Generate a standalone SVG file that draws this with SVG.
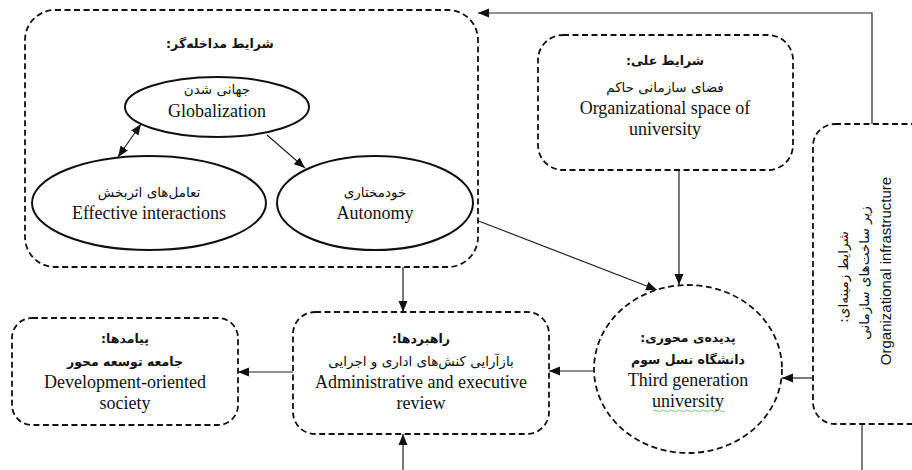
<svg xmlns="http://www.w3.org/2000/svg" width="912" height="470" viewBox="0 0 912 470">
<style>
.box{fill:#fff;stroke:#111;stroke-width:1.8;stroke-dasharray:6 3.5}
.ell{fill:#fff;stroke:#111;stroke-width:2}
.con{fill:none;stroke:#222;stroke-width:1.2}
.en{font-family:"Liberation Serif","Times New Roman",serif;font-size:18px;fill:#111;text-anchor:middle}
.fa{font-family:"DejaVu Sans","Noto Sans",sans-serif;font-size:13.5px;fill:#111;text-anchor:middle;direction:rtl;unicode-bidi:embed}
.b{font-weight:bold;font-size:12.5px}
.ens{font-family:"Liberation Sans",Arial,sans-serif;font-size:15px;fill:#111;text-anchor:middle}
</style>
<defs>
<marker id="ah" markerUnits="userSpaceOnUse" markerWidth="12" markerHeight="10" refX="11" refY="5" orient="auto-start-reverse">
<path d="M0,0.5 L11,5 L0,9.5 z" fill="#111"/>
</marker>
</defs>
<rect width="912" height="470" fill="#fff"/>

<g id="connectors">
<line class="con" x1="403" y1="267" x2="403" y2="312" marker-end="url(#ah)"/>
<line class="con" x1="403" y1="470" x2="403" y2="434" marker-end="url(#ah)"/>
<line class="con" x1="679" y1="170" x2="679" y2="285" marker-end="url(#ah)"/>
<line class="con" x1="476" y1="220" x2="657" y2="290" marker-end="url(#ah)"/>
<line class="con" x1="813" y1="378" x2="782" y2="378" marker-end="url(#ah)"/>
<line class="con" x1="593" y1="371" x2="549" y2="371" marker-end="url(#ah)"/>
<line class="con" x1="293" y1="372" x2="238" y2="372" marker-end="url(#ah)"/>
<path class="con" d="M872,124 V13 H478" marker-end="url(#ah)"/>
<line class="con" x1="862" y1="424" x2="862" y2="470"/>
</g>

<g id="intervening">
<rect class="box" x="25" y="10" width="453" height="257" rx="30"/>
<text class="fa b" x="220" y="48">شرایط مداخله‌گر:</text>
</g>

<g id="connectors-inner">
<line class="con" x1="267" y1="135" x2="305" y2="168" marker-end="url(#ah)"/>
<line class="con" x1="118" y1="157" x2="141" y2="124" marker-start="url(#ah)" marker-end="url(#ah)"/>
</g>

<g id="globalization">
<ellipse class="ell" cx="217" cy="107" rx="92" ry="30"/>
<text class="fa" x="217" y="94">جهانی شدن</text>
<text class="en" x="217" y="117">Globalization</text>
</g>

<g id="interactions">
<ellipse class="ell" cx="149" cy="203" rx="117" ry="47"/>
<text class="fa" x="149" y="197">تعامل‌های اثربخش</text>
<text class="en" x="149" y="219">Effective interactions</text>
</g>

<g id="autonomy">
<ellipse class="ell" cx="375" cy="203" rx="98" ry="47"/>
<text class="fa" x="375" y="197">خودمختاری</text>
<text class="en" x="375" y="219">Autonomy</text>
</g>

<g id="causal">
<rect class="box" x="538" y="35" width="255" height="135" rx="25"/>
<text class="fa b" x="665" y="65">شرایط علی:</text>
<text class="fa" x="665" y="92">فضای سازمانی حاکم</text>
<text class="en" x="665" y="114">Organizational space of</text>
<text class="en" x="665" y="135">university</text>
</g>

<g id="contextual">
<rect class="box" x="813" y="124" width="120" height="300" rx="22"/>
<text class="fa" transform="translate(848,277) rotate(-90)" x="0" y="0">شرایط زمینه‌ای:</text>
<text class="fa" transform="translate(869,273) rotate(-90)" x="0" y="0">زیر ساخت‌های سازمانی</text>
<text class="ens" transform="translate(891,271) rotate(-90)" x="0" y="0">Organizational infrastructure</text>
</g>

<g id="phenomenon">
<ellipse class="box" cx="688" cy="369" rx="94" ry="84"/>
<text class="fa b" x="688" y="342">پدیده‌ی محوری:</text>
<text class="fa b" x="688" y="364">دانشگاه نسل سوم</text>
<text class="en" x="688" y="386">Third generation</text>
<text class="en" x="688" y="407">university</text>
<path d="M653,411 q2,-2 4,0 t4,0 t4,0 t4,0 t4,0 t4,0 t4,0 t4,0 t4,0 t4,0 t4,0 t4,0 t4,0 t4,0 t4,0 t4,0 t4,0 t4,0" fill="none" stroke="#5cb85c" stroke-width="0.8"/>
</g>

<g id="strategies">
<rect class="box" x="293" y="312" width="256" height="122" rx="22"/>
<text class="fa b" x="421" y="343">راهبردها:</text>
<text class="fa" x="421" y="366">بازآرایی کنش‌های اداری و اجرایی</text>
<text class="en" x="421" y="388">Administrative and executive</text>
<text class="en" x="421" y="409">review</text>
</g>

<g id="outcomes">
<rect class="box" x="12" y="318" width="226" height="107" rx="20"/>
<text class="fa b" x="125" y="343">پیامدها:</text>
<text class="fa b" x="125" y="366">جامعه توسعه محور</text>
<text class="en" x="125" y="388">Development-oriented</text>
<text class="en" x="125" y="409">society</text>
</g>
</svg>
